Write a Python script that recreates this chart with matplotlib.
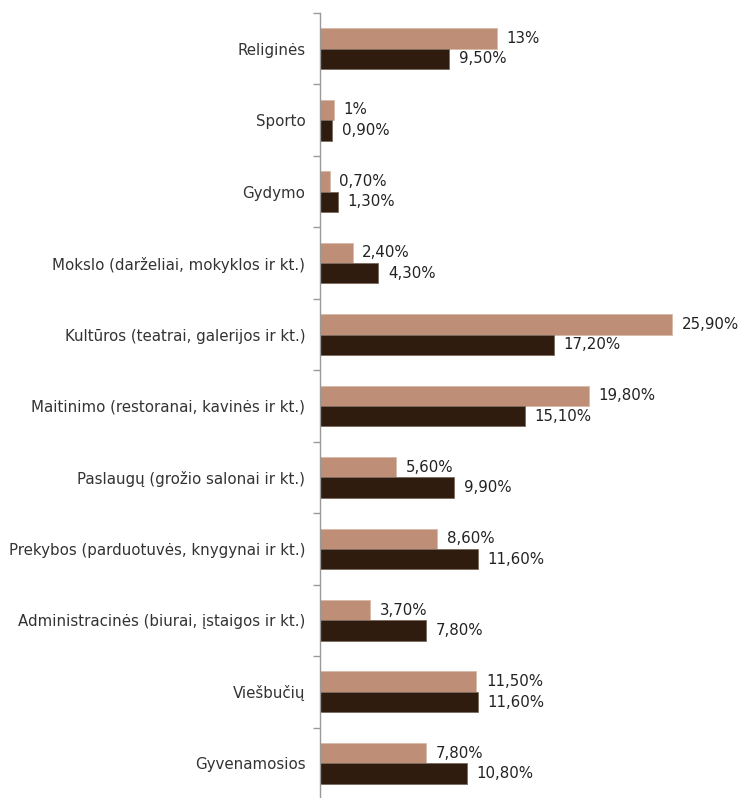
import matplotlib
matplotlib.use("Agg")
import matplotlib.pyplot as plt
import numpy as np

categories = [
    "Religinės",
    "Sporto",
    "Gydymo",
    "Mokslo (darželiai, mokyklos ir kt.)",
    "Kultūros (teatrai, galerijos ir kt.)",
    "Maitinimo (restoranai, kavinės ir kt.)",
    "Paslaugų (grožio salonai ir kt.)",
    "Prekybos (parduotuvės, knygynai ir kt.)",
    "Administracinės (biurai, įstaigos ir kt.)",
    "Viešbučių",
    "Gyvenamosios",
]
series_light = [13.0, 1.0, 0.7, 2.4, 25.9, 19.8, 5.6, 8.6, 3.7, 11.5, 7.8]
series_dark = [9.5, 0.9, 1.3, 4.3, 17.2, 15.1, 9.9, 11.6, 7.8, 11.6, 10.8]
labels_light = ["13%", "1%", "0,70%", "2,40%", "25,90%", "19,80%", "5,60%", "8,60%", "3,70%", "11,50%", "7,80%"]
labels_dark = ["9,50%", "0,90%", "1,30%", "4,30%", "17,20%", "15,10%", "9,90%", "11,60%", "7,80%", "11,60%", "10,80%"]

plt.rcParams['font.family'] = ['DejaVu Sans']

W, H = 740, 798
fig = plt.figure(figsize=(W / 100, H / 100), dpi=100)
left_px, right_px = 320, 320 + 13.58 * 30
top_px, bot_px = 13, 799
ax = fig.add_axes([left_px / W, 1 - bot_px / H, (right_px - left_px) / W, (bot_px - top_px) / H])

n = len(categories)
y = np.arange(n)
h = 0.285
light_c = "#BE8E76"
dark_c = "#2F1C0F"

ax.barh(y - h / 2, series_light, height=h, color=light_c, edgecolor="#d9b9a6", linewidth=0.6)
ax.barh(y + h / 2, series_dark, height=h, color=dark_c, edgecolor="#7a6a5e", linewidth=0.6)

fs = 10.8
for i in range(n):
    ax.annotate(labels_light[i], (series_light[i], y[i] - h / 2), xytext=(7, 0),
                textcoords="offset points", ha="left", va="center", fontsize=fs, color="#222222")
    ax.annotate(labels_dark[i], (series_dark[i], y[i] + h / 2), xytext=(7, 0),
                textcoords="offset points", ha="left", va="center", fontsize=fs, color="#222222")

ax.set_xlim(0, 30)
ax.set_ylim(n - 0.5, -0.5)
ax.set_yticks(y)
ax.set_yticklabels(categories, fontsize=fs, color="#333333")
ax.tick_params(axis="y", which="major", length=0, pad=10.5)
ax.set_yticks(np.arange(-0.5, n + 0.5, 1), minor=True)
ax.tick_params(axis="y", which="minor", length=5, color="#999999", width=1)
ax.set_xticks([])
for s in ["top", "right", "bottom"]:
    ax.spines[s].set_visible(False)
ax.spines["left"].set_color("#999999")
ax.spines["left"].set_linewidth(1)

fig.savefig("out.png", dpi=100)
